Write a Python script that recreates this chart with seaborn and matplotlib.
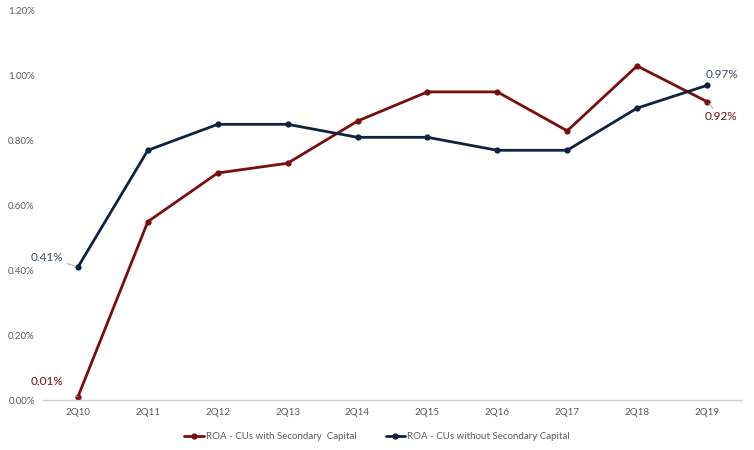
import matplotlib.pyplot as plt
import pandas as pd
import seaborn as sns

quarters = ['2Q10', '2Q11', '2Q12', '2Q13', '2Q14', '2Q15', '2Q16', '2Q17', '2Q18', '2Q19']
roa_with = [0.01, 0.55, 0.70, 0.73, 0.86, 0.95, 0.95, 0.83, 1.03, 0.92]
roa_without = [0.41, 0.77, 0.85, 0.85, 0.81, 0.81, 0.77, 0.77, 0.90, 0.97]
series_names = ['ROA - CUs with Secondary  Capital', 'ROA - CUs without Secondary Capital']
y_ticks = [0.0, 0.2, 0.4, 0.6, 0.8, 1.0, 1.2]

RED = '#7a0d0d'
NAVY = '#0f2341'
GREY = '#595959'

sns.set_theme(style='white')
plt.rcParams['font.family'] = ['Lato', 'DejaVu Sans']

df = pd.DataFrame({
    'quarter': quarters * 2,
    'roa': roa_with + roa_without,
    'series': [series_names[0]] * len(quarters) + [series_names[1]] * len(quarters),
})
df['pos'] = list(range(len(quarters))) * 2

fig = plt.figure(figsize=(7.54, 4.5), dpi=100)
ax = fig.add_axes([0.057, 0.111, 0.927, 0.865])

sns.lineplot(data=df, x='pos', y='roa', hue='series', palette=[RED, NAVY],
             marker='o', markersize=4.5, markeredgewidth=0, linewidth=2,
             ax=ax, legend=False)

ax.set_xlim(-0.5, len(quarters) - 0.5)
ax.set_ylim(0, 1.2)
ax.set_xticks(range(len(quarters)))
ax.set_xticklabels(quarters)
ax.set_yticks(y_ticks)
ax.set_yticklabels([f'{v:.2f}%' for v in y_ticks])
ax.tick_params(axis='both', length=0, labelsize=7, colors=GREY, pad=6)
ax.set_xlabel('')
ax.set_ylabel('')
for s in ['left', 'right', 'top']:
    ax.spines[s].set_visible(False)
ax.spines['bottom'].set_color('#d0d0d0')
ax.spines['bottom'].set_linewidth(1)

# data labels with leader lines
def label(x, y, txt, color, dx, dy, leader):
    ax.annotate(txt, xy=(x, y), xytext=(dx, dy), textcoords='offset points',
                fontsize=8.5, color=color, ha='center', va='center',
                arrowprops=dict(arrowstyle='-', color='#a6a6a6', lw=0.7,
                                shrinkA=9, shrinkB=2) if leader else None,
                annotation_clip=False)

label(0, roa_with[0], '0.01%', RED, -22, 11, True)
label(0, roa_without[0], '0.41%', '#3a4a66', -22, 7, True)
label(9, roa_with[-1], '0.92%', RED, 10, -11, True)
label(9, roa_without[-1], '0.97%', '#3a4a66', 11, 8, False)

handles = [plt.Line2D([], [], color=c, marker='o', markersize=3.5, lw=2)
           for c in [RED, NAVY]]
fig.legend(handles, series_names, loc='center', bbox_to_anchor=(0.5, 0.03),
           ncol=2, frameon=False, fontsize=7, handlelength=2.0,
           handletextpad=0.2, columnspacing=3, labelcolor=GREY)

fig.savefig('out.png', dpi=100)
